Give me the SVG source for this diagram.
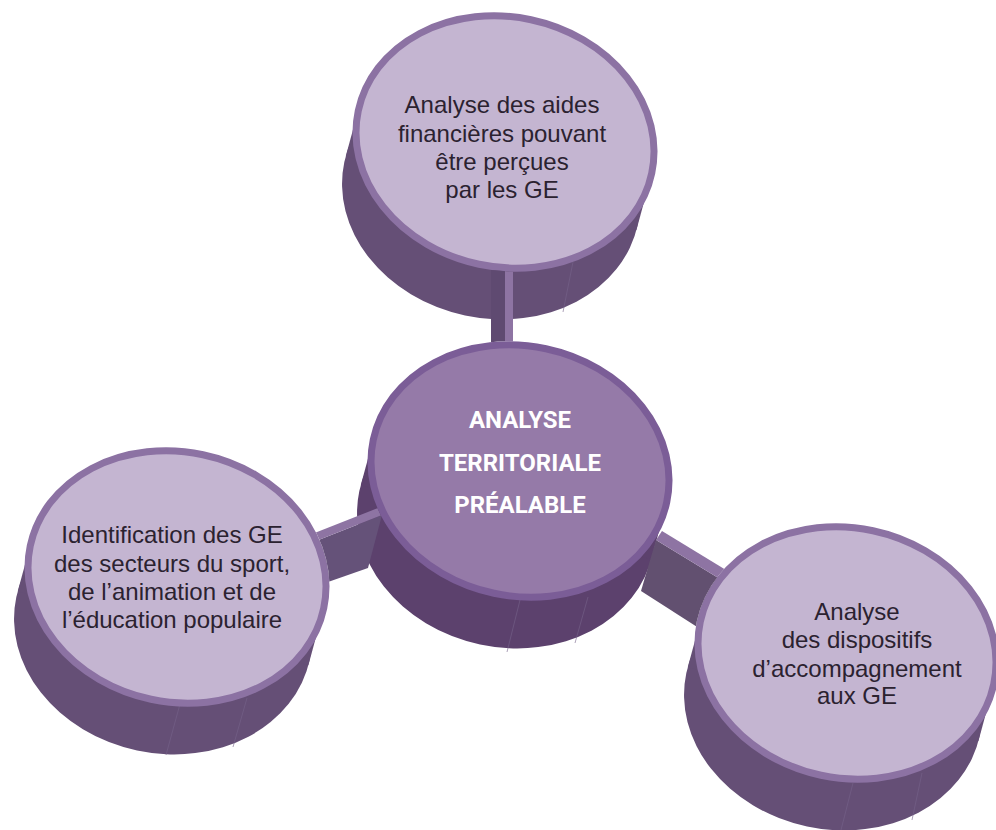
<svg xmlns="http://www.w3.org/2000/svg" width="996" height="830" viewBox="0 0 996 830">
<style>
.body{fill:#654f76}
.cbody{fill:#5c416d}
.face{fill:#c4b5d1;stroke:#8c72a3;stroke-width:7}
.cface{fill:#957aa8;stroke:#7b5d97;stroke-width:7}
.seam{stroke:#76638a;stroke-width:1;opacity:.6}
.strip{fill:#8e74a3}
.side{fill:#655279}
.t{font-family:"Liberation Sans",Arial,sans-serif;font-size:24px;fill:#2b2230;text-anchor:middle}
.ct{font-family:Roboto,"Liberation Sans",sans-serif;font-weight:bold;font-size:24px;fill:#ffffff;text-anchor:middle}
</style>
<defs>
<g id="cyl">
<ellipse cx="-3" cy="53" rx="150" ry="125"/>
<polygon points="149.8,5.9 146.8,58.9 -152.8,47.1 -149.8,-5.9"/>
</g>
<mask id="faces" maskUnits="userSpaceOnUse" x="0" y="0" width="996" height="830">
<rect x="0" y="0" width="996" height="830" fill="#fff"/>
<ellipse rx="153.5" ry="128.5" transform="translate(505,142) rotate(12)" fill="#000"/>
<ellipse rx="153.5" ry="128.5" transform="translate(520,471) rotate(12)" fill="#000"/>
<ellipse rx="153.5" ry="128.5" transform="translate(177,577) rotate(12)" fill="#000"/>
<ellipse rx="153.5" ry="128.5" transform="translate(847,653) rotate(12)" fill="#000"/>
</mask>
</defs>
<rect width="996" height="830" fill="#ffffff"/>

<g id="node-top">
<use href="#cyl" class="body" transform="translate(505,142) rotate(12)"/>
<line class="seam" x1="505" y1="270" x2="497" y2="323"/>
<line class="seam" x1="573" y1="262" x2="563" y2="312"/>
<ellipse class="face" rx="150" ry="125" transform="translate(505,142) rotate(12)"/>
<text class="t" x="502" y="113">Analyse des aides</text>
<text class="t" x="502" y="142">financières pouvant</text>
<text class="t" x="502" y="170">être perçues</text>
<text class="t" x="502" y="198">par les GE</text>
</g>

<g id="node-left">
<use href="#cyl" class="body" transform="translate(177,577) rotate(12)"/>
<line class="seam" x1="180" y1="704" x2="166" y2="755"/>
<line class="seam" x1="247" y1="698" x2="233" y2="747"/>
<ellipse class="face" rx="150" ry="125" transform="translate(177,577) rotate(12)"/>
<text class="t" x="172" y="543">Identification des GE</text>
<text class="t" x="172" y="572">des secteurs du sport,</text>
<text class="t" x="172" y="600">de l’animation et de</text>
<text class="t" x="172" y="628">l’éducation populaire</text>
</g>

<g id="node-right">
<use href="#cyl" class="body" transform="translate(847,653) rotate(12)"/>
<line class="seam" x1="853" y1="783" x2="841" y2="830"/>
<line class="seam" x1="922" y1="773" x2="912" y2="820"/>
<ellipse class="face" rx="150" ry="125" transform="translate(847,653) rotate(12)"/>
<text class="t" x="857" y="620">Analyse</text>
<text class="t" x="857" y="648">des dispositifs</text>
<text class="t" x="857" y="677">d’accompagnement</text>
<text class="t" x="857" y="704">aux GE</text>
</g>

<g id="node-center">
<use href="#cyl" class="cbody" transform="translate(520,471) rotate(12)"/>
<line class="seam" x1="520" y1="600" x2="507" y2="652"/>
<line class="seam" x1="588" y1="597" x2="575" y2="643"/>
</g>

<g id="connectors" mask="url(#faces)">
<polygon class="side" points="491,262 505,262 505,352 491,352" style="fill:#5f4a71"/>
<polygon class="strip" points="505,262 513,262 513,352 505,352"/>
<polygon class="side" points="316,541 382,515 368,568 328,582"/>
<polygon class="strip" points="312,534 378,508 382,515 316,541"/>
<polygon class="side" points="656,540 720,579 705,632 641,591" style="fill:#625070"/>
<polygon class="strip" points="662,531 726,570 720,579 656,540"/>
</g>

<g id="node-center-face">
<ellipse class="cface" rx="150" ry="125" transform="translate(520,471) rotate(12)"/>
<text class="ct" x="520" y="428">ANALYSE</text>
<text class="ct" x="520" y="471">TERRITORIALE</text>
<text class="ct" x="520" y="513">PRÉALABLE</text>
</g>
</svg>
